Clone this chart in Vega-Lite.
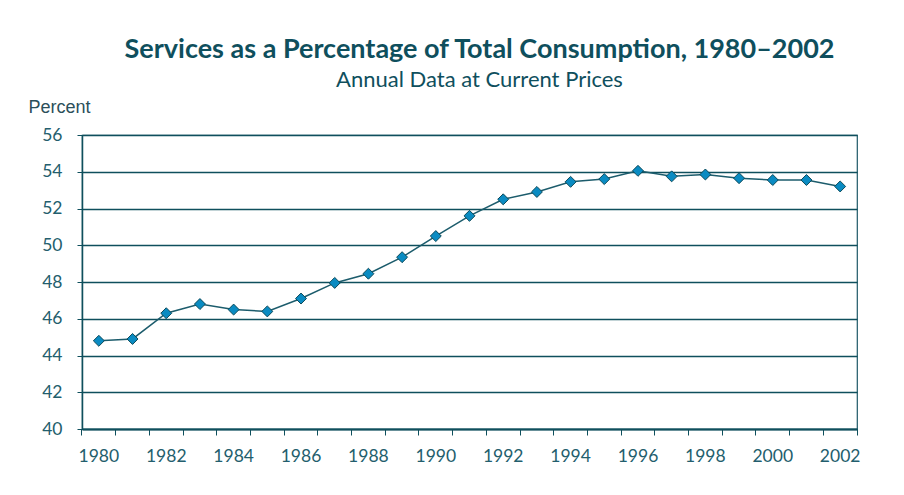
{
  "$schema": "https://vega.github.io/schema/vega-lite/v6.json",
  "width": 775,
  "height": 294,
  "padding": {"left": 28, "top": 36, "right": 47, "bottom": 20},
  "background": "white",
  "title": {
    "text": "Services as a Percentage of Total Consumption, 1980–2002",
    "subtitle": "Annual Data at Current Prices",
    "font": "Lato",
    "fontSize": 27,
    "fontWeight": "bold",
    "color": "#0f4f5d",
    "subtitleFont": "Lato",
    "subtitleFontSize": 22,
    "subtitleColor": "#0f4f5d",
    "subtitlePadding": 6,
    "anchor": "middle",
    "dx": 10,
    "offset": 6
  },
  "config": {
    "view": {"stroke": "#1d5866", "strokeWidth": 1.2},
    "axis": {
      "labelFont": "Lato",
      "labelFontSize": 17.5,
      "labelColor": "#235e6d",
      "domainColor": "#0f4f5d",
      "tickColor": "#0f4f5d",
      "gridColor": "#0f4f5d"
    }
  },
  "data": {
    "values": [
      {"year": 1980, "pct": 44.8},
      {"year": 1981, "pct": 44.9},
      {"year": 1982, "pct": 46.3},
      {"year": 1983, "pct": 46.8},
      {"year": 1984, "pct": 46.5},
      {"year": 1985, "pct": 46.4},
      {"year": 1986, "pct": 47.1},
      {"year": 1987, "pct": 47.95},
      {"year": 1988, "pct": 48.45},
      {"year": 1989, "pct": 49.35},
      {"year": 1990, "pct": 50.5},
      {"year": 1991, "pct": 51.6},
      {"year": 1992, "pct": 52.5},
      {"year": 1993, "pct": 52.9},
      {"year": 1994, "pct": 53.45},
      {"year": 1995, "pct": 53.6},
      {"year": 1996, "pct": 54.05},
      {"year": 1997, "pct": 53.75},
      {"year": 1998, "pct": 53.85},
      {"year": 1999, "pct": 53.65},
      {"year": 2000, "pct": 53.55},
      {"year": 2001, "pct": 53.55},
      {"year": 2002, "pct": 53.2}
    ]
  },
  "encoding": {
    "x": {
      "field": "year",
      "type": "ordinal",
      "scale": {"type": "band", "paddingInner": 0, "paddingOuter": 0},
      "axis": {
        "title": null,
        "labelAngle": 0,
        "bandPosition": 1,
        "tickExtra": true,
        "tickSize": 6,
        "labelPadding": 12,
        "domainWidth": 2.2,
        "labelOverlap": false,
        "labelExpr": "datum.value % 2 === 0 ? datum.label : ''",
        "grid": false
      }
    },
    "y": {
      "field": "pct",
      "type": "quantitative",
      "scale": {"domain": [40, 56], "nice": false, "zero": false},
      "axis": {
        "values": [40, 42, 44, 46, 48, 50, 52, 54, 56],
        "title": "Percent",
        "titleFont": "Liberation Sans",
        "titleFontSize": 18,
        "titleFontWeight": "normal",
        "titleColor": "#2b4f5a",
        "titleAngle": 0,
        "titleAlign": "left",
        "titleBaseline": "alphabetic",
        "titleX": -54,
        "titleY": -23,
        "tickSize": 5,
        "labelPadding": 15,
        "domainWidth": 1.5,
        "grid": true,
        "gridWidth": 1.4
      }
    }
  },
  "layer": [
    {"mark": {"type": "line", "color": "#1c5c6c", "strokeWidth": 1.5}},
    {
      "mark": {
        "type": "point",
        "shape": "diamond",
        "filled": true,
        "size": 120,
        "fill": "#0a8bc2",
        "stroke": "#0d4a5a",
        "strokeWidth": 1,
        "opacity": 1
      }
    }
  ]
}
